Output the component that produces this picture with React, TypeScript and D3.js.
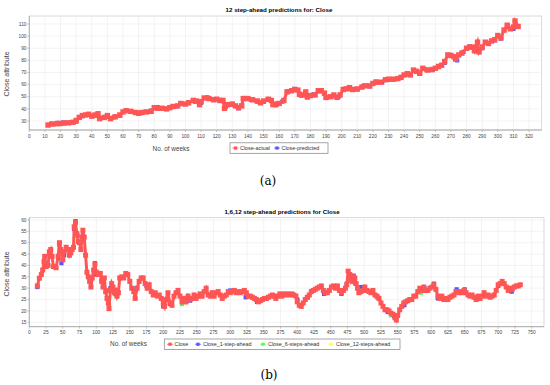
import React from "react";
import * as d3 from "d3";

// ---- chart (a): 12 step-ahead predictions ----
const weeksA = [12,15,18,20,22,25,28,30,32,34,36,38,40,42,44,45,48,50,52,55,58,60,62,65,68,70,72,75,78,80,82,85,88,90,92,95,97,100,102,105,107,109,110,112,115,118,120,122,124,125,127,130,132,134,136,137,140,143,146,148,150,153,155,156,158,160,163,165,168,170,172,173,175,177,178,180,183,185,187,189,190,193,195,197,199,201,203,205,207,210,213,215,218,220,222,225,228,230,233,236,238,240,242,244,246,248,250,252,255,258,260,262,264,266,268,270,272,273,275,277,280,282,284,285,287,288,290,292,294,296,298,300,302,304,306,308,310,311,313];
const closeActualA = [26.7,27.5,27.8,28,28.3,28.5,29,30.5,33,34.5,35,35.5,34,35,36,32,33,34.5,32,33.5,35,37.5,38.5,38,37,36.5,37,37.5,38,41,40.5,40.5,40,41,42,42.5,44.5,44,45,47,46.5,43.5,46,49,48.5,47.5,48,47,47,40.5,43.5,44,42.5,41,42.5,48.5,48.5,47.5,46.5,45,46.5,48,47,43.5,44,44.5,47,54,55,56,55.5,52,51.5,54,50,51,51.5,55,55,53,49.5,50,51.5,49.5,51.5,56,56.5,57.5,56,56.5,58,59,59,61,62,62,64,64.5,64.5,65,66,68,69,68,72,71,69.5,73.5,72,72.5,73.5,75,76,79,84.5,84,83,81,84.5,86,90,91,91,88,95,87,91,95,94,96,97,100.5,98.5,105,109,106,107.5,112.5,108];
const predWeeksA = [14,18,22,26,30,34,38,42,46,50,54,58,62,66,70,74,78,82,86,90,94,98,102,106,110,114,118,122,126,130,134,138,142,146,150,154,158,162,166,170,174,178,182,186,190,194,198,202,206,210,214,218,222,226,230,234,238,242,246,250,254,258,262,266,270,274,278,282,286,290,294,298,302,306,310];
const closePredA = [27.8,28.5,28.8,28.7,29.5,34,35.8,34.5,32.5,33.5,33,34.5,38.8,37.5,36,37.5,38.5,41.5,40,41.5,42,44,45.5,46,45,49.5,48,46.5,42,43.5,40.5,49,47.5,46,46,47.5,43,46,54.5,56.5,51,49.5,52,55.5,49,50.5,50,56.5,56.5,56,59,58.5,62.5,62,64,64.5,65.5,68.5,71.5,69,72.5,72,74.5,78,84.5,80,87,91.5,87.5,90,93.5,96.5,98,107.5,106];
const xTicksA = d3.range(0, 321, 10);
const yTicksA = d3.range(30, 111, 10);

// ---- chart (b): 1, 6, 12 step-ahead predictions ----
const weeksB = [12,15,18,20,22,23,25,28,30,32,34,36,40,43,45,47,50,52,55,58,60,62,64,66,67,69,71,73,75,77,79,80,82,84,86,88,90,92,94,96,98,100,103,106,108,110,112,114,116,118,119,121,123,125,127,129,131,133,135,138,141,144,147,150,153,156,158,161,164,167,170,173,176,179,182,185,188,191,194,197,200,202,204,207,210,213,216,219,222,225,228,231,234,237,240,243,246,249,252,255,258,261,264,267,270,273,276,279,282,285,288,291,294,297,300,303,306,309,312,315,318,321,324,327,330,333,336,339,342,345,348,351,354,357,360,363,366,368,371,374,377,380,383,386,389,392,395,398,400,403,406,409,412,415,418,421,424,427,430,433,436,439,442,445,448,451,454,457,460,463,466,469,472,474,476,478,480,482,484,486,488,490,492,495,498,501,504,507,510,513,516,519,522,525,528,531,534,537,540,543,546,548,550,553,556,559,562,565,568,571,574,577,580,583,586,589,592,595,598,601,604,607,610,613,616,619,622,625,628,631,634,637,640,643,646,649,652,655,658,661,664,667,670,673,676,679,682,685,688,691,694,697,700,703,706,709,712,715,718,721,724,727,730,733];
const closeB = [31,34.4,36,38,41.5,44,39.5,40,46,47,44,39.5,39,44,50,47,42.5,46,48,47,44.5,45.5,47,48,57,59,54,50.5,50,47,52.5,55.5,52.5,44.5,37,35,33,30.5,34.5,38,40.5,37,36,36.5,33,30.5,34.5,28.5,25.5,23.5,21,29,32,30.5,28,29,26.5,28,34.5,35,34.5,36.5,36,33,30,28.5,25.5,30,33,34.5,34.5,32,30,31.5,28.5,27,28,26.5,27,25.5,23.5,22,25,28,23.5,22.5,26.5,28,29,26.5,24,25.5,24,26.5,25,25.5,27,25.5,26.5,27.5,26.5,28.5,30,27,26.5,28,26.5,28,28.5,27,25.5,26.5,27,28.5,28,28.5,29,28,28.5,28,28.5,29,28,26.5,26.5,26,25.5,25,24,24.5,25,25.5,25.5,26,26.5,27,26.5,25.5,26.5,27.5,26.5,27.5,27,27.5,27,27.5,27,26.5,24,22.5,22,23.5,25,26,27,28.5,29,29.5,30,30.5,31,29,28,28,29,30.5,31,30,31,29,28,29,30,31.5,37.5,36,33.5,35,33,34.5,32,30,28,28.5,29,30.5,29,28.5,28,29,27,26.5,25.5,23.5,22,20.5,20.5,20,19,18.5,17,16,18,20.5,22,23.5,24,24.5,25,25,26.5,26.5,28.5,30,29,30.5,29,29,30,30.5,31.5,29.5,26.5,25.5,26.5,25,25.5,25,26,26.5,27,28.5,28,28.5,28,29,28,27,26.5,27,26,25,26.5,25.5,26.5,28,26.5,27,26,26.5,27,29,31.5,32,33,32,30.5,29,30,29.5,30.5,31,31,31.5];
const step1WeeksB = [12,22,30,43,45,48,52,67,69,72,80,98,100,108,116,121,129,160,175,200,210,240,300,323,340,400,416,440,447,466,474,484,495,520,535,545,560,590,604,610,638,650,700,720];
const close1StepB = [30.5,42,45,43,49,41,44.5,56,59.5,53,54,41,36,33.5,29,30,27.5,30,31,22,23,24.5,29,26,24,25,26,27.5,29,27.5,32,35.5,30.5,26,19.5,17.5,22.5,30,32,25.5,29.5,29.5,31,28.5];
const step6WeeksB = [118,130,228,400,540,585,720];
const close6StepB = [23,26.5,23,25,18,28,28.5];
const step12WeeksB = [120,230,545];
const close12StepB = [22.5,24,17.5];
const xTicksB = d3.range(0, 751, 25);
const yTicksB = d3.range(15, 61, 5);

const FONT = "'Liberation Sans', Arial, sans-serif";
const RED = "#ff5555";
const BLUE = "#5555ff";
const GREEN = "#55ff55";
const YELLOW = "#ffff55";

type Series = { weeks: number[]; values: number[]; color: string; line: boolean; size: number };
type LegendItem = { label: string; color: string; x: number; tx: number };

type PanelProps = {
  left: number; right: number; top: number; bottom: number;
  xDomain: [number, number]; yDomain: [number, number];
  xTicks: number[]; yTicks: number[];
  title: string; titleX: number; titleY: number;
  yLabelX: number; yLabelY: number;
  xLabelX: number; xLabelY: number;
  legendBox: [number, number, number, number];
  legend: LegendItem[];
  series: Series[];
};

function Panel(p: PanelProps) {
  const x = d3.scaleLinear().domain(p.xDomain).range([p.left, p.right]);
  const y = d3.scaleLinear().domain(p.yDomain).range([p.bottom, p.top]);
  const [lx, ly, lw, lh] = p.legendBox;
  const lyMid = ly + lh / 2;
  return (
    <g>
      <text x={p.titleX} y={p.titleY} textAnchor="middle" fontFamily={FONT} fontWeight="bold" fontSize={6.2} fill="#000">
        {p.title}
      </text>
      <rect x={p.left} y={p.top} width={p.right - p.left} height={p.bottom - p.top} fill="#fff" stroke="#d0d0d0" strokeWidth={0.8} />
      {p.xTicks.map((t) => (
        <line key={"gx" + t} x1={x(t)} x2={x(t)} y1={p.top} y2={p.bottom} stroke="#ebebeb" strokeWidth={0.6} />
      ))}
      {p.yTicks.map((t) => (
        <line key={"gy" + t} x1={p.left} x2={p.right} y1={y(t)} y2={y(t)} stroke="#ebebeb" strokeWidth={0.6} />
      ))}
      <line x1={p.left} x2={p.left} y1={p.top} y2={p.bottom} stroke="#a0a0a0" strokeWidth={0.8} />
      <line x1={p.left} x2={p.right} y1={p.bottom} y2={p.bottom} stroke="#a0a0a0" strokeWidth={0.8} />
      {p.xTicks.map((t) => (
        <g key={"tx" + t}>
          <line x1={x(t)} x2={x(t)} y1={p.bottom} y2={p.bottom + 2} stroke="#a0a0a0" strokeWidth={0.6} />
          <text x={x(t)} y={p.bottom + 7.5} textAnchor="middle" fontFamily={FONT} fontSize={4.8} fill="#444">{t}</text>
        </g>
      ))}
      {p.yTicks.map((t) => (
        <g key={"ty" + t}>
          <line x1={p.left - 2} x2={p.left} y1={y(t)} y2={y(t)} stroke="#a0a0a0" strokeWidth={0.6} />
          <text x={p.left - 2.8} y={y(t) + 1.7} textAnchor="end" fontFamily={FONT} fontSize={4.8} fill="#444">{t}</text>
        </g>
      ))}
      <text transform={`translate(${p.yLabelX},${p.yLabelY}) rotate(-90)`} textAnchor="middle" fontFamily={FONT} fontSize={7} fill="#444">
        Close attribute
      </text>
      <text x={p.xLabelX} y={p.xLabelY} textAnchor="middle" fontFamily={FONT} fontSize={6.4} fill="#444">
        No. of weeks
      </text>
      {p.series.slice().reverse().map((s, i) => {
        const pts = s.weeks.map((w, k) => [x(w), y(s.values[k])] as [number, number]);
        return (
          <g key={"s" + i}>
            {s.line && <path d={d3.line()(pts) || ""} fill="none" stroke={s.color} strokeWidth={3} />}
            {pts.map(([px, py], k) => (
              <rect key={k} x={px - s.size / 2} y={py - s.size / 2} width={s.size} height={s.size} fill={s.color} />
            ))}
          </g>
        );
      })}
      <rect x={lx} y={ly} width={lw} height={lh} fill="#fff" stroke="#808080" strokeWidth={0.7} />
      {p.legend.map((it) => (
        <g key={it.label}>
          <line x1={it.x - 3} x2={it.x + 3} y1={lyMid} y2={lyMid} stroke={it.color} strokeWidth={0.8} />
          <rect x={it.x - 1.6} y={lyMid - 1.6} width={3.2} height={3.2} fill={it.color} />
          <text x={it.tx} y={lyMid + 2} fontFamily={FONT} fontSize={5.4} fill="#333">{it.label}</text>
        </g>
      ))}
    </g>
  );
}

export default function App() {
  return (
    <svg width={550} height={385} style={{ position: "absolute", left: 0, top: 0, background: "#fff" }}>
      <rect width={550} height={385} fill="#fff" />
      <Panel
        left={29.3} right={541.7} top={16} bottom={130}
        xDomain={[0, 328.1]} yDomain={[22.6, 116.6]}
        xTicks={xTicksA} yTicks={yTicksA}
        title="12 step-ahead predictions for: Close" titleX={279} titleY={12}
        yLabelX={9} yLabelY={74}
        xLabelX={171} xLabelY={150.5}
        legendBox={[230, 142.8, 98, 10.5]}
        legend={[
          { label: "Close-actual", color: RED, x: 235.5, tx: 240 },
          { label: "Close-predicted", color: BLUE, x: 277, tx: 281.5 },
        ]}
        series={[
          { weeks: weeksA, values: closeActualA, color: RED, line: true, size: 5.4 },
          { weeks: predWeeksA, values: closePredA, color: BLUE, line: false, size: 4.2 },
        ]}
      />
      <Panel
        left={29.3} right={544} top={217.7} bottom={326.7}
        xDomain={[0, 768.4]} yDomain={[13.06, 61]}
        xTicks={xTicksB} yTicks={yTicksB}
        title="1,6,12 step-ahead predictions for Close" titleX={282} titleY={213.5}
        yLabelX={9} yLabelY={274}
        xLabelX={128.5} xLabelY={346}
        legendBox={[164.3, 339, 235.7, 10.5]}
        legend={[
          { label: "Close", color: RED, x: 170, tx: 174.5 },
          { label: "Close_1-step-ahead", color: BLUE, x: 198, tx: 203 },
          { label: "Close_6-steps-ahead", color: GREEN, x: 263, tx: 268 },
          { label: "Close_12-steps-ahead", color: YELLOW, x: 331, tx: 336 },
        ]}
        series={[
          { weeks: weeksB, values: closeB, color: RED, line: true, size: 5 },
          { weeks: step1WeeksB, values: close1StepB, color: BLUE, line: false, size: 4.2 },
          { weeks: step6WeeksB, values: close6StepB, color: GREEN, line: false, size: 4.2 },
          { weeks: step12WeeksB, values: close12StepB, color: YELLOW, line: false, size: 4.2 },
        ]}
      />
      <text x={268} y={185} textAnchor="middle" fontFamily="'DejaVu Serif', 'Liberation Serif', serif" fontSize={12} fill="#000">(a)</text>
      <text x={269} y={379} textAnchor="middle" fontFamily="'DejaVu Serif', 'Liberation Serif', serif" fontSize={12} fill="#000">(b)</text>
    </svg>
  );
}
